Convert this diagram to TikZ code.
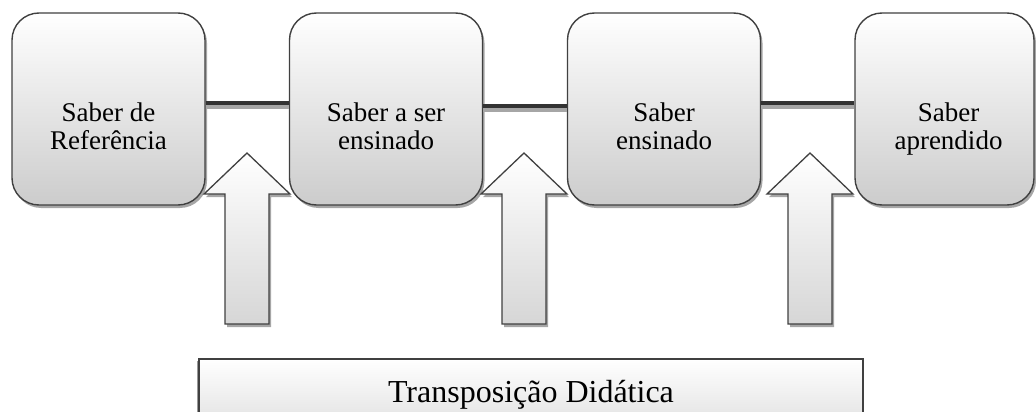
\documentclass[tikz,border=0pt]{standalone}
\usepackage{fontspec}
\setmainfont{Liberation Serif}
\usetikzlibrary{shadows,calc}

\tikzset{
  saber/.style={draw=black!75, line width=1.4pt, rounded corners=27pt,
    top color=white, middle color=white!96!black, bottom color=black!20,
    minimum width=193pt, minimum height=192pt,
    drop shadow={shadow xshift=2pt, shadow yshift=-3pt, fill=black!35, opacity=1}},
  rotulo/.style={align=center, inner sep=0pt, anchor=south, text depth=6pt,
    font=\fontsize{27}{28.5}\selectfont},
  ligacao/.style={line width=4pt, draw=black!80,
    preaction={draw=black!35, line width=4pt, transform canvas={yshift=-3.5pt}}},
  seta/.style={draw=black!75, line width=1.3pt, line join=miter,
    top color=white, bottom color=black!16,
    drop shadow={shadow xshift=2pt, shadow yshift=-3pt, fill=black!35, opacity=1}},
  caixa/.style={draw=black!75, line width=1.6pt, top color=white, bottom color=black!14,
    minimum width=664pt, minimum height=82pt,
    drop shadow={shadow xshift=-2pt, shadow yshift=-2pt, fill=black!40, opacity=1}}
}

\begin{document}
\begin{tikzpicture}[x=1pt, y=-1pt]
  \useasboundingbox (0,0) rectangle (1036,412);

  % os quatro saberes
  \node[saber] (b1) at (108.5,109) {};
  \node[saber] (b2) at (386,109) {};
  \node[saber] (b3) at (664,109) {};
  \node[saber, minimum width=179pt] (b4) at (944.5,109) {};

  \node[rotulo] (t1) at ($(b1)+(0,47)$) {Saber de\\Referência};
  \node[rotulo] (t2) at ($(b2)+(0,47)$) {Saber a ser\\ensinado};
  \node[rotulo] (t3) at ($(b3)+(0,47)$) {Saber\\ensinado};
  \node[rotulo] (t4) at ($(b4)+(4,47)$) {Saber\\aprendido};

  % ligacoes
  \draw[ligacao] ([yshift=6pt]b1.east) -- ([yshift=6pt]b2.west);
  \draw[ligacao] ([yshift=3pt]b2.east) -- ([yshift=3pt]b3.west);
  \draw[ligacao] ([yshift=6pt]b3.east) -- ([yshift=6pt]b4.west);

  % setas
  \foreach \p in {247,524,810}
    \draw[seta] (\p,153) -- (\p+43,194) -- (\p+22,194) -- (\p+22,324)
      -- (\p-22,324) -- (\p-22,194) -- (\p-43,194) -- cycle;

  \node[caixa] (td) at (531,400) {};
  \node[anchor=base, inner sep=0pt, font=\fontsize{32}{36}\selectfont] (tdt) at (531,402) {Transposição Didática};
\end{tikzpicture}
\end{document}
